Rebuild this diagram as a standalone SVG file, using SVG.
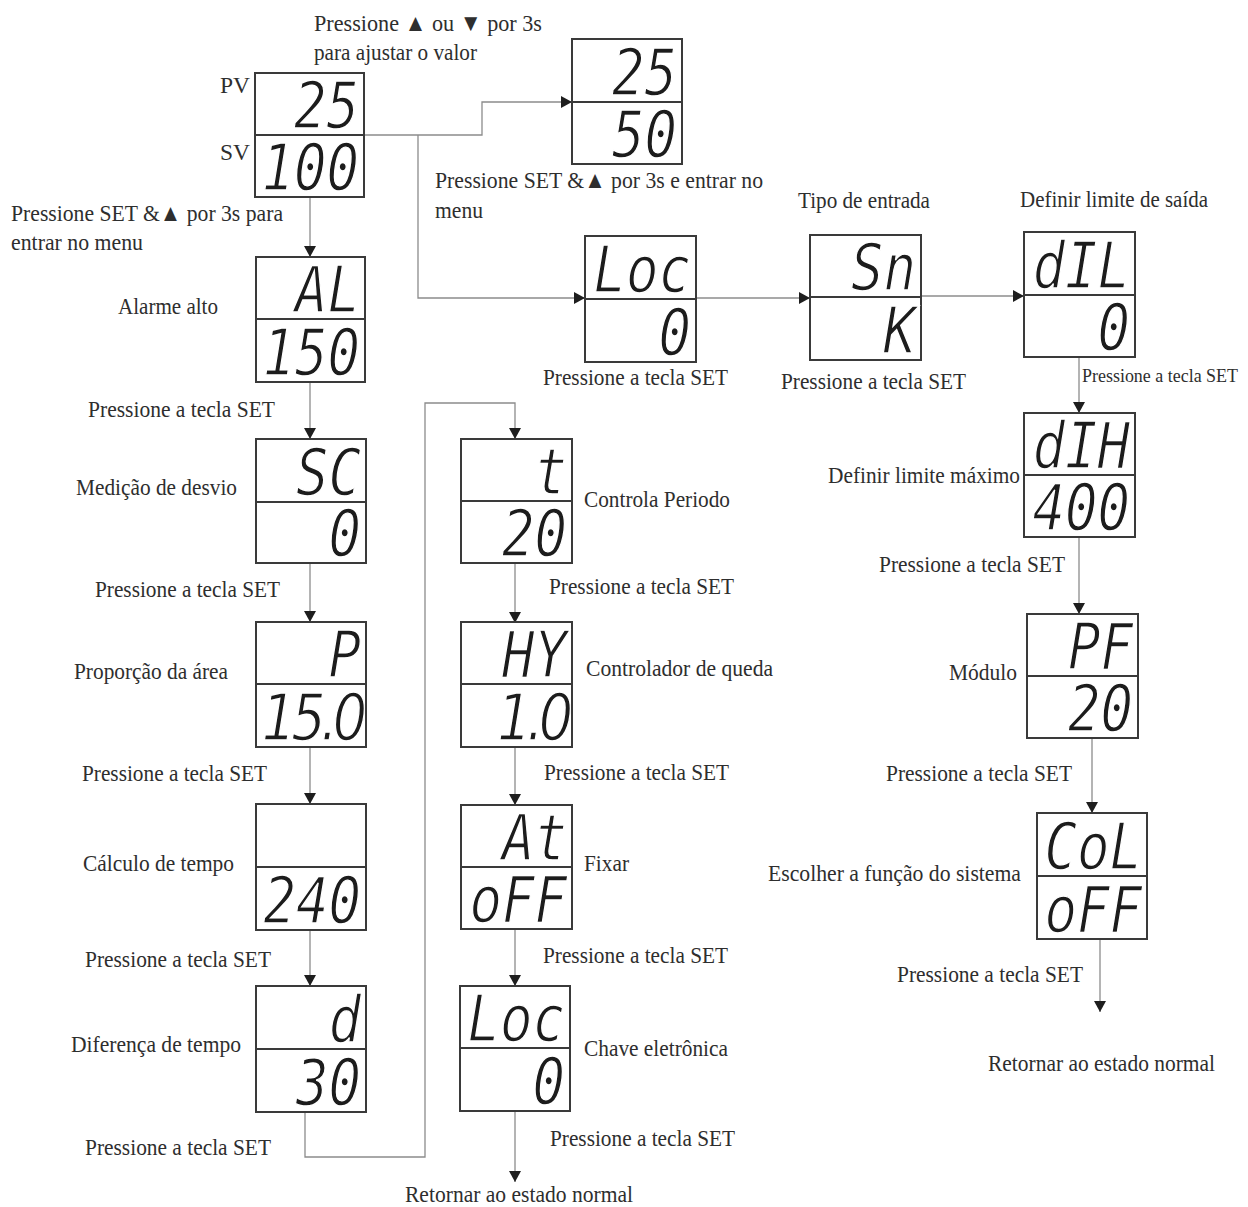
<svg xmlns="http://www.w3.org/2000/svg" width="1248" height="1207" viewBox="0 0 1248 1207">
<style>
.box{fill:#fff;stroke:#3a3a3a;stroke-width:2}
.div{stroke:#3a3a3a;stroke-width:2}
.seg{font-family:"DejaVu Sans Mono",monospace;font-style:oblique;font-size:54px;fill:#1c1c1c;stroke:#fff;stroke-width:1.2px;text-anchor:end}
.segd{font-family:"DejaVu Sans",sans-serif;letter-spacing:-5px}
.lbl{font-family:"Liberation Serif","DejaVu Serif",serif;font-size:24px;fill:#2e2e2e}
.sm{font-size:18px}
.con{fill:none;stroke:#8c8c8c;stroke-width:1.3}
</style>
<defs>
<marker id="arr" markerUnits="userSpaceOnUse" markerWidth="12" markerHeight="12" refX="11" refY="6" orient="auto">
<path d="M0,0 L11,6 L0,12 z" fill="#1e1e1e"/>
</marker>
</defs>
<rect width="1248" height="1207" fill="#fff"/>

<g id="connectors">
<path class="con" d="M364,135 H482 V102 H572" marker-end="url(#arr)"/>
<path class="con" d="M418,135 V298 H585" marker-end="url(#arr)"/>
<path class="con" d="M310,197 V257" marker-end="url(#arr)"/>
<path class="con" d="M310,382 V439" marker-end="url(#arr)"/>
<path class="con" d="M310,563 V622" marker-end="url(#arr)"/>
<path class="con" d="M310,747 V804" marker-end="url(#arr)"/>
<path class="con" d="M310,930 V986" marker-end="url(#arr)"/>
<path class="con" d="M305,1112 V1157 H425 V403 H515 V439" marker-end="url(#arr)"/>
<path class="con" d="M515,563 V623" marker-end="url(#arr)"/>
<path class="con" d="M515,747 V805" marker-end="url(#arr)"/>
<path class="con" d="M515,929 V986" marker-end="url(#arr)"/>
<path class="con" d="M515,1111 V1182" marker-end="url(#arr)"/>
<path class="con" d="M696,298 H810" marker-end="url(#arr)"/>
<path class="con" d="M921,296 H1024" marker-end="url(#arr)"/>
<path class="con" d="M1079,357 V413" marker-end="url(#arr)"/>
<path class="con" d="M1079,537 V614" marker-end="url(#arr)"/>
<path class="con" d="M1092,738 V813" marker-end="url(#arr)"/>
<path class="con" d="M1100,939 V1012" marker-end="url(#arr)"/>
</g>

<g id="node-pv">
<rect class="box" x="255" y="73" width="109" height="124"/>
<line class="div" x1="255" y1="135" x2="364" y2="135"/>
<text class="seg" transform="translate(359,128) scale(1,1.18)">25</text>
<text class="seg" transform="translate(359,190) scale(1,1.18)">100</text>
</g>
<g id="node-adjust">
<rect class="box" x="572" y="39" width="110" height="125"/>
<line class="div" x1="572" y1="102" x2="682" y2="102"/>
<text class="seg" transform="translate(677,95) scale(1,1.18)">25</text>
<text class="seg" transform="translate(677,157) scale(1,1.18)">50</text>
</g>
<g id="node-al">
<rect class="box" x="256" y="257" width="109" height="125"/>
<line class="div" x1="256" y1="319" x2="365" y2="319"/>
<text class="seg" transform="translate(360,312) scale(1,1.18)">AL</text>
<text class="seg" transform="translate(360,375) scale(1,1.18)">150</text>
</g>
<g id="node-sc">
<rect class="box" x="256" y="439" width="110" height="124"/>
<line class="div" x1="256" y1="502" x2="366" y2="502"/>
<text class="seg" transform="translate(361,495) scale(1,1.18)">SC</text>
<text class="seg" transform="translate(361,556) scale(1,1.18)">0</text>
</g>
<g id="node-p">
<rect class="box" x="256" y="622" width="110" height="125"/>
<line class="div" x1="256" y1="684" x2="366" y2="684"/>
<text class="seg" transform="translate(361,677) scale(1,1.18)">P</text>
<text class="seg segd" transform="translate(362,740) scale(1,1.18)">15.0</text>
</g>
<g id="node-ct">
<rect class="box" x="256" y="804" width="110" height="126"/>
<line class="div" x1="256" y1="867" x2="366" y2="867"/>
<text class="seg" transform="translate(361,923) scale(1,1.18)">240</text>
</g>
<g id="node-d">
<rect class="box" x="256" y="986" width="110" height="126"/>
<line class="div" x1="256" y1="1049" x2="366" y2="1049"/>
<text class="seg" transform="translate(361,1042) scale(1,1.18)">d</text>
<text class="seg" transform="translate(361,1105) scale(1,1.18)">30</text>
</g>
<g id="node-t">
<rect class="box" x="461" y="439" width="111" height="124"/>
<line class="div" x1="461" y1="501" x2="572" y2="501"/>
<text class="seg" transform="translate(567,494) scale(1,1.18)">t</text>
<text class="seg" transform="translate(567,556) scale(1,1.18)">20</text>
</g>
<g id="node-hy">
<rect class="box" x="461" y="622" width="111" height="125"/>
<line class="div" x1="461" y1="684" x2="572" y2="684"/>
<text class="seg" transform="translate(567,677) scale(1,1.18)">HY</text>
<text class="seg segd" transform="translate(568,740) scale(1,1.18)">1.0</text>
</g>
<g id="node-at">
<rect class="box" x="461" y="805" width="111" height="124"/>
<line class="div" x1="461" y1="867" x2="572" y2="867"/>
<text class="seg" transform="translate(567,860) scale(1,1.18)">At</text>
<text class="seg" transform="translate(567,922) scale(1,1.18)">oFF</text>
</g>
<g id="node-loc2">
<rect class="box" x="460" y="986" width="110" height="125"/>
<line class="div" x1="460" y1="1048" x2="570" y2="1048"/>
<text class="seg" transform="translate(565,1041) scale(1,1.18)">Loc</text>
<text class="seg" transform="translate(565,1104) scale(1,1.18)">0</text>
</g>
<g id="node-loc1">
<rect class="box" x="585" y="236" width="111" height="126"/>
<line class="div" x1="585" y1="299" x2="696" y2="299"/>
<text class="seg" transform="translate(691,292) scale(1,1.18)">Loc</text>
<text class="seg" transform="translate(691,355) scale(1,1.18)">0</text>
</g>
<g id="node-sn">
<rect class="box" x="810" y="235" width="111" height="125"/>
<line class="div" x1="810" y1="297" x2="921" y2="297"/>
<text class="seg" transform="translate(916,290) scale(1,1.18)">Sn</text>
<text class="seg" transform="translate(916,353) scale(1,1.18)">K</text>
</g>
<g id="node-dil">
<rect class="box" x="1024" y="232" width="111" height="125"/>
<line class="div" x1="1024" y1="295" x2="1135" y2="295"/>
<text class="seg" transform="translate(1130,288) scale(1,1.18)">dIL</text>
<text class="seg" transform="translate(1130,350) scale(1,1.18)">0</text>
</g>
<g id="node-dih">
<rect class="box" x="1024" y="413" width="111" height="124"/>
<line class="div" x1="1024" y1="475" x2="1135" y2="475"/>
<text class="seg" transform="translate(1130,468) scale(1,1.18)">dIH</text>
<text class="seg" transform="translate(1130,530) scale(1,1.18)">400</text>
</g>
<g id="node-pf">
<rect class="box" x="1027" y="614" width="111" height="124"/>
<line class="div" x1="1027" y1="676" x2="1138" y2="676"/>
<text class="seg" transform="translate(1133,669) scale(1,1.18)">PF</text>
<text class="seg" transform="translate(1133,731) scale(1,1.18)">20</text>
</g>
<g id="node-col">
<rect class="box" x="1037" y="813" width="110" height="126"/>
<line class="div" x1="1037" y1="876" x2="1147" y2="876"/>
<text class="seg" transform="translate(1142,869) scale(1,1.18)">CoL</text>
<text class="seg" transform="translate(1142,932) scale(1,1.18)">oFF</text>
</g>

<g id="labels">
<text class="lbl" x="314" y="31" textLength="228" lengthAdjust="spacingAndGlyphs">Pressione ▲ ou ▼  por 3s</text>
<text class="lbl" x="314" y="60" textLength="163" lengthAdjust="spacingAndGlyphs">para ajustar o valor</text>
<text class="lbl" x="220" y="93" textLength="30" lengthAdjust="spacingAndGlyphs">PV</text>
<text class="lbl" x="220" y="160" textLength="30" lengthAdjust="spacingAndGlyphs">SV</text>
<text class="lbl" x="435" y="188" textLength="328" lengthAdjust="spacingAndGlyphs">Pressione SET &amp;▲ por 3s e entrar no</text>
<text class="lbl" x="435" y="218" textLength="48" lengthAdjust="spacingAndGlyphs">menu</text>
<text class="lbl" x="11" y="221" textLength="272" lengthAdjust="spacingAndGlyphs">Pressione SET &amp;▲ por 3s para</text>
<text class="lbl" x="11" y="250" textLength="132" lengthAdjust="spacingAndGlyphs">entrar no menu</text>
<text class="lbl" x="118" y="314" textLength="100" lengthAdjust="spacingAndGlyphs">Alarme alto</text>
<text class="lbl" x="88" y="417" textLength="187" lengthAdjust="spacingAndGlyphs">Pressione a tecla SET</text>
<text class="lbl" x="76" y="495" textLength="161" lengthAdjust="spacingAndGlyphs">Medição de desvio</text>
<text class="lbl" x="95" y="597" textLength="185" lengthAdjust="spacingAndGlyphs">Pressione a tecla SET</text>
<text class="lbl" x="74" y="679" textLength="154" lengthAdjust="spacingAndGlyphs">Proporção da área</text>
<text class="lbl" x="82" y="781" textLength="185" lengthAdjust="spacingAndGlyphs">Pressione a tecla SET</text>
<text class="lbl" x="83" y="871" textLength="151" lengthAdjust="spacingAndGlyphs">Cálculo de tempo</text>
<text class="lbl" x="85" y="967" textLength="186" lengthAdjust="spacingAndGlyphs">Pressione a tecla SET</text>
<text class="lbl" x="71" y="1052" textLength="170" lengthAdjust="spacingAndGlyphs">Diferença de tempo</text>
<text class="lbl" x="85" y="1155" textLength="186" lengthAdjust="spacingAndGlyphs">Pressione a tecla SET</text>
<text class="lbl" x="405" y="1202" textLength="228" lengthAdjust="spacingAndGlyphs">Retornar ao estado normal</text>
<text class="lbl" x="550" y="1146" textLength="185" lengthAdjust="spacingAndGlyphs">Pressione a tecla SET</text>
<text class="lbl" x="584" y="1056" textLength="144" lengthAdjust="spacingAndGlyphs">Chave eletrônica</text>
<text class="lbl" x="543" y="963" textLength="185" lengthAdjust="spacingAndGlyphs">Pressione a tecla SET</text>
<text class="lbl" x="584" y="871" textLength="45" lengthAdjust="spacingAndGlyphs">Fixar</text>
<text class="lbl" x="544" y="780" textLength="185" lengthAdjust="spacingAndGlyphs">Pressione a tecla SET</text>
<text class="lbl" x="586" y="676" textLength="187" lengthAdjust="spacingAndGlyphs">Controlador de queda</text>
<text class="lbl" x="549" y="594" textLength="185" lengthAdjust="spacingAndGlyphs">Pressione a tecla SET</text>
<text class="lbl" x="584" y="507" textLength="146" lengthAdjust="spacingAndGlyphs">Controla Periodo</text>
<text class="lbl" x="543" y="385" textLength="185" lengthAdjust="spacingAndGlyphs">Pressione a tecla SET</text>
<text class="lbl" x="781" y="389" textLength="185" lengthAdjust="spacingAndGlyphs">Pressione a tecla SET</text>
<text class="lbl" x="798" y="208" textLength="132" lengthAdjust="spacingAndGlyphs">Tipo de entrada</text>
<text class="lbl" x="1020" y="207" textLength="188" lengthAdjust="spacingAndGlyphs">Definir limite de saída</text>
<text class="lbl sm" x="1082" y="382" textLength="156" lengthAdjust="spacingAndGlyphs">Pressione a tecla SET</text>
<text class="lbl" x="828" y="483" textLength="192" lengthAdjust="spacingAndGlyphs">Definir limite máximo</text>
<text class="lbl" x="879" y="572" textLength="186" lengthAdjust="spacingAndGlyphs">Pressione a tecla SET</text>
<text class="lbl" x="949" y="680" textLength="68" lengthAdjust="spacingAndGlyphs">Módulo</text>
<text class="lbl" x="886" y="781" textLength="186" lengthAdjust="spacingAndGlyphs">Pressione a tecla SET</text>
<text class="lbl" x="768" y="881" textLength="253" lengthAdjust="spacingAndGlyphs">Escolher a função do sistema</text>
<text class="lbl" x="897" y="982" textLength="186" lengthAdjust="spacingAndGlyphs">Pressione a tecla SET</text>
<text class="lbl" x="988" y="1071" textLength="227" lengthAdjust="spacingAndGlyphs">Retornar ao estado normal</text>
</g>
</svg>
